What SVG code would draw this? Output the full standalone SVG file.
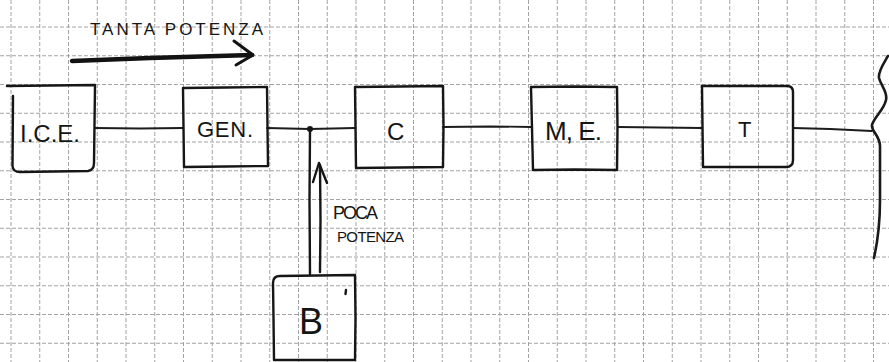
<svg xmlns="http://www.w3.org/2000/svg" width="889" height="362" viewBox="0 0 889 362">
  <style>
    .grid { fill: none; stroke: #a3a3a3; stroke-width: 1; stroke-dasharray: 4 2; }
    .ink { fill: none; stroke: #161616; stroke-width: 2.4; stroke-linecap: round; stroke-linejoin: round; }
    .wire { fill: none; stroke: #1c1c1c; stroke-width: 1.8; stroke-linecap: round; stroke-linejoin: round; }
    .lbl { font-family: "Liberation Sans", "DejaVu Sans", sans-serif; fill: #151515; }
  </style>

  <rect width="889" height="362" fill="#ffffff"/>

  <!-- squared paper -->
  <g id="grid">
    <path class="grid" d="M11 0V362M39.75 0V362M68.5 0V362M97.25 0V362M126 0V362M154.75 0V362M183.5 0V362M212.25 0V362M241 0V362M269.75 0V362M298.5 0V362M327.25 0V362M356 0V362M384.75 0V362M413.5 0V362M442.25 0V362M471 0V362M499.75 0V362M528.5 0V362M557.25 0V362M586 0V362M614.75 0V362M643.5 0V362M672.25 0V362M701 0V362M729.75 0V362M758.5 0V362M787.25 0V362M816 0V362M844.75 0V362M873.5 0V362"/>
    <path class="grid" d="M0 27H889M0 55.75H889M0 84.5H889M0 113.25H889M0 142H889M0 170.75H889M0 199.5H889M0 228.25H889M0 257H889M0 285.75H889M0 314.5H889M0 343.25H889"/>
  </g>

  <!-- connectors -->
  <g id="connectors">
    <path class="wire" d="M95 128 L140 128.5 L183 128"/>
    <path class="wire" d="M267 128 L310 129 L355 128"/>
    <circle cx="310" cy="129" r="3" fill="#161616"/>
    <path class="wire" d="M443 127 L490 126.5 L532 127"/>
    <path class="wire" d="M618 127 L660 127.5 L702 128"/>
    <path class="wire" d="M793 128 L830 129 L872 131"/>
    <!-- power flow from the battery up to the bus -->
    <path class="ink" stroke-width="2.2" d="M310 130 L309.5 200 L310 274"/>
    <path class="ink" stroke-width="2.2" d="M320 165 L320.5 220 L320 272"/>
    <path class="ink" stroke-width="2" d="M313 182 L319 163 L327 183"/>
    <!-- main power flow -->
    <path fill="none" stroke="#121212" stroke-width="4.5" stroke-linecap="round" d="M72 61 L150 58 L252 55"/>
    <path fill="none" stroke="#121212" stroke-width="3" stroke-linecap="round" stroke-linejoin="round" d="M234 41 L253 55 L236 65"/>
    <!-- brace at the wheel end -->
    <path fill="none" stroke="#1a1a1a" stroke-width="2.6" stroke-linecap="round" d="M888 56 C884 63 878 71 879 78 C881 86 888 92 886 100 C884 110 874 117 872 125 C871 131 880 136 880 146 L880 200 C880 222 878 240 874 258"/>
  </g>

  <g id="ice">
    <path class="ink" d="M7 86 L50 85.5 L95 85 M13 96 L12.5 166 Q13 172 20 172 L88 171 Q94 170 94 163 L95 86"/>
    <text class="lbl" x="20" y="142" font-size="24" textLength="60">I.C.E.</text>
  </g>

  <g id="gen">
    <path class="ink" d="M183 88 L225 87.5 L267 87 L267.5 127 L268 166 L226 166.5 L184 167 L183.5 127 Z"/>
    <text class="lbl" x="197" y="137" font-size="22" textLength="56">GEN.</text>
  </g>

  <g id="conv">
    <path class="ink" d="M355 87 L400 86.5 L443 86 L443.5 126 L443 167 L400 167.5 L356 168 L355.5 127 Z"/>
    <text class="lbl" x="387" y="140" font-size="24">C</text>
  </g>

  <g id="me">
    <path class="ink" d="M531 87 L575 86.5 L617 87 L617.5 128 L617 170 L575 169.5 L533 170 L532 128 Z"/>
    <text class="lbl" x="545" y="140" font-size="26" textLength="57">M, E.</text>
  </g>

  <g id="t">
    <path class="ink" d="M702 86 L787 86 Q793 86 793 92 L793 160 Q793 167 786 167 L703 167 L702.5 126 Z"/>
    <text class="lbl" x="738" y="137" font-size="22">T</text>
  </g>

  <g id="b">
    <path class="ink" d="M280 276 L355 275 L355.5 318 L355 360 L274 360 L273.5 318 L273 283 Q273 276 280 276 Z"/>
    <path class="ink" stroke-width="1.4" d="M346 290 L345.5 294"/>
    <text class="lbl" x="299" y="334" font-size="36">B</text>
  </g>

  <g id="labels">
    <text class="lbl" x="90" y="35" font-size="17" textLength="173">TANTA POTENZA</text>
    <text class="lbl" x="333" y="219" font-size="18" textLength="45">POCA</text>
    <text class="lbl" x="337" y="242" font-size="15" textLength="67">POTENZA</text>
  </g>
</svg>
